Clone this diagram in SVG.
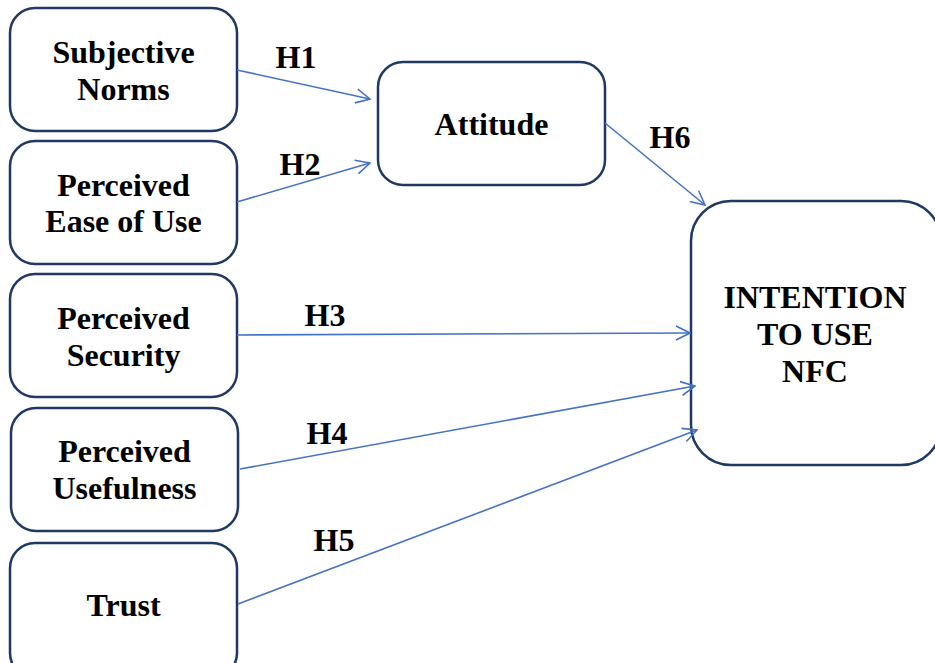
<svg xmlns="http://www.w3.org/2000/svg" width="935" height="663" viewBox="0 0 935 663">
<style>
.box{fill:#fff;stroke:#1f3864;stroke-width:2.5}
.c{stroke:#4472c4;stroke-width:1.6;fill:none}
</style>
<defs>
<marker id="a" viewBox="0 0 16 16" refX="15" refY="8" markerWidth="16" markerHeight="16" markerUnits="userSpaceOnUse" orient="auto">
<path d="M1,1 L15,8 L1,15" fill="none" stroke="#4472c4" stroke-width="1.6"/>
</marker>
</defs>
<rect width="935" height="663" fill="#fff"/>
<g font-family="Liberation Serif, serif" font-weight="bold" font-size="32" fill="#000" text-anchor="middle">
<g id="n1"><rect class="box" x="10" y="8" width="227" height="123" rx="25"/><text x="123.5" y="63">Subjective</text><text x="123.5" y="100">Norms</text></g>
<g id="n2"><rect class="box" x="10" y="141" width="227" height="123" rx="25"/><text x="123.5" y="196">Perceived</text><text x="123.5" y="232">Ease of Use</text></g>
<g id="n3"><rect class="box" x="10" y="274" width="227" height="123" rx="25"/><text x="123.5" y="329">Perceived</text><text x="123.5" y="366">Security</text></g>
<g id="n4"><rect class="box" x="11" y="408" width="227" height="123" rx="25"/><text x="124.5" y="462">Perceived</text><text x="124.5" y="499">Usefulness</text></g>
<g id="n5"><rect class="box" x="10" y="543" width="227" height="135" rx="25"/><text x="123.5" y="616">Trust</text></g>
<g id="n6"><rect class="box" x="378" y="62" width="227" height="123" rx="25"/><text x="491.5" y="135">Attitude</text></g>
<g id="n7"><rect class="box" x="691" y="201" width="250" height="264" rx="40"/><text x="815" y="308">INTENTION</text><text x="815" y="345">TO USE</text><text x="815" y="382">NFC</text></g>
<g id="connectors">
<line class="c" x1="237" y1="70" x2="370" y2="99" marker-end="url(#a)"/>
<line class="c" x1="237" y1="202" x2="370" y2="163" marker-end="url(#a)"/>
<line class="c" x1="237" y1="335" x2="690" y2="333" marker-end="url(#a)"/>
<line class="c" x1="240" y1="469" x2="695" y2="386" marker-end="url(#a)"/>
<line class="c" x1="238" y1="604" x2="697" y2="430" marker-end="url(#a)"/>
<line class="c" x1="605" y1="123" x2="705" y2="205" marker-end="url(#a)"/>
<text x="296" y="68">H1</text>
<text x="300" y="175">H2</text>
<text x="325" y="326">H3</text>
<text x="327" y="444">H4</text>
<text x="334" y="551">H5</text>
<text x="670" y="148">H6</text>
</g>
</g>
</svg>
